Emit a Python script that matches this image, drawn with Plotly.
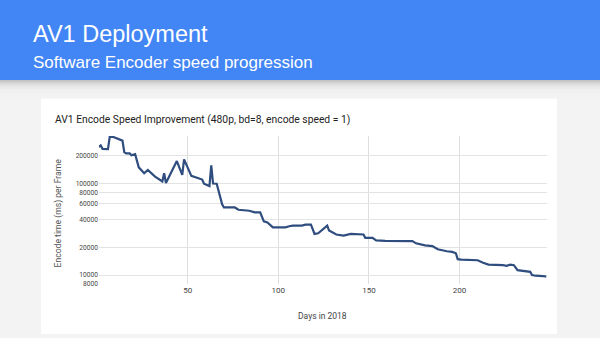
import plotly.graph_objects as go

W, H = 600, 338

days = [1, 2, 3, 6, 7, 9, 14, 15, 16, 18, 19, 21, 23, 26, 28, 29, 32, 36, 37, 38,
        44, 47, 48, 52, 54, 58, 59, 62, 63, 64, 66, 69, 70, 72, 73, 76, 78, 84, 87, 90,
        92, 94, 97, 100, 104, 106, 108, 113, 115, 118, 120, 122, 127, 128, 130, 132, 136, 140, 147, 148,
        152, 154, 159, 162, 174, 176, 181, 185, 188, 193, 196, 198, 199, 201, 206, 210, 213, 216, 224, 226,
        228, 230, 232, 239, 240, 242, 246, 248]
encode_ms = [251000, 260000, 239000, 237000, 325000, 322000, 294000, 220000, 213000, 213000,
             203000, 209000, 150000, 129500, 140600, 134800, 119000, 105100, 129500, 101000,
             175900, 124100, 183400, 121100, 117300, 110500, 99300, 93700, 158000, 100000,
             99300, 59300, 54700, 54700, 55600, 54700, 51600, 50400, 48300, 48300,
             38600, 37600, 33200, 33200, 33200, 34100, 34700, 34700, 35500, 35500,
             28100, 28600, 34700, 30600, 29400, 27700, 27000, 28100, 27700, 25500,
             25500, 23900, 23600, 23500, 23500, 22200, 21100, 20700, 19100, 18200,
             17900, 17300, 14900, 14700, 14500, 14500, 13600, 13000, 12800, 12600,
             13000, 12800, 11300, 10850, 10000, 9830, 9750, 9590]

x_ticks = [50, 100, 150, 200]
y_ticks = [8000, 10000, 20000, 40000, 60000, 80000, 100000, 200000]
y_tick_labels = ["8000", "10000", "20000", "40000", "60000", "80000", "100000", "200000"]

slide_title = "AV1 Deployment"
slide_subtitle = "Software Encoder speed progression"
chart_title = "AV1 Encode Speed Improvement (480p, bd=8, encode speed = 1)"
x_title = "Days in 2018"
y_title = "Encode time (ms) per Frame"

def px_x(p):
    return p / W

def px_y(p):
    return 1 - p / H

fig = go.Figure()
fig.add_trace(go.Scatter(x=days, y=encode_ms, mode="lines",
                         line=dict(color="#2f4d7e", width=2.2), hoverinfo="skip"))

shapes = [
    dict(type="rect", xref="paper", yref="paper", x0=0, x1=1, y0=px_y(81), y1=1,
         fillcolor="#4285f4", line=dict(width=0), layer="below"),
    dict(type="rect", xref="paper", yref="paper", x0=px_x(41), x1=px_x(557), y0=0, y1=px_y(100),
         fillcolor="#ffffff", line=dict(width=0), layer="below"),
]
shade = ["#c4c4c4", "#d0d0d0", "#dadada", "#e2e2e2", "#e8e8e8", "#ececec", "#efefef", "#f1f1f1"]
for i, c in enumerate(shade):
    shapes.append(dict(type="rect", xref="paper", yref="paper", x0=0, x1=1,
                       y0=px_y(82 + 1.5 * (i + 1)), y1=px_y(81 + 1.5 * i),
                       fillcolor=c, line=dict(width=0), layer="below"))

annotations = [
    dict(text=slide_title, x=px_x(31), y=px_y(34), xref="paper", yref="paper",
         xanchor="left", yanchor="middle", showarrow=False,
         font=dict(family="Liberation Sans, Arial", size=23.5, color="#ffffff")),
    dict(text=slide_subtitle, x=px_x(31), y=px_y(63.5), xref="paper", yref="paper",
         xanchor="left", yanchor="middle", showarrow=False,
         font=dict(family="Liberation Sans, Arial", size=17, color="#ffffff")),
    dict(text=chart_title, x=px_x(53), y=px_y(120.5), xref="paper", yref="paper",
         xanchor="left", yanchor="middle", showarrow=False,
         font=dict(family="Roboto", size=10.3, color="#222222")),
    dict(text=x_title, x=px_x(322.5), y=px_y(320), xref="paper", yref="paper",
         xanchor="center", yanchor="middle", showarrow=False,
         font=dict(family="Roboto", size=8.5, color="#444444")),
    dict(text=y_title, x=px_x(58), y=px_y(216), xref="paper", yref="paper",
         xanchor="center", yanchor="middle", showarrow=False, textangle=-90,
         font=dict(family="Roboto", size=8.6, color="#555555")),
]

fig.update_layout(
    width=W, height=H, autosize=False,
    margin=dict(l=0, r=0, t=0, b=0, pad=0),
    paper_bgcolor="#f3f3f3", plot_bgcolor="rgba(0,0,0,0)",
    showlegend=False,
    shapes=shapes, annotations=annotations,
    xaxis=dict(domain=[98.9 / W, 546.5 / W], range=[1, 248],
               tickvals=x_ticks, ticktext=[str(v) for v in x_ticks],
               showgrid=True, gridcolor="#dedede", gridwidth=1,
               zeroline=False, showline=False, ticks="",
               tickfont=dict(family="Roboto", size=8, color="#444444")),
    yaxis=dict(domain=[px_y(287.3), px_y(137.7)], type="log",
               range=[3.9031, 5.518],
               tickvals=y_ticks, ticktext=y_tick_labels,
               showgrid=True, gridcolor="#e3e3e3", gridwidth=1,
               zeroline=False, showline=False, ticks="",
               tickfont=dict(family="Roboto", size=6.6, color="#444444")),
)

fig.write_html("out.html")
